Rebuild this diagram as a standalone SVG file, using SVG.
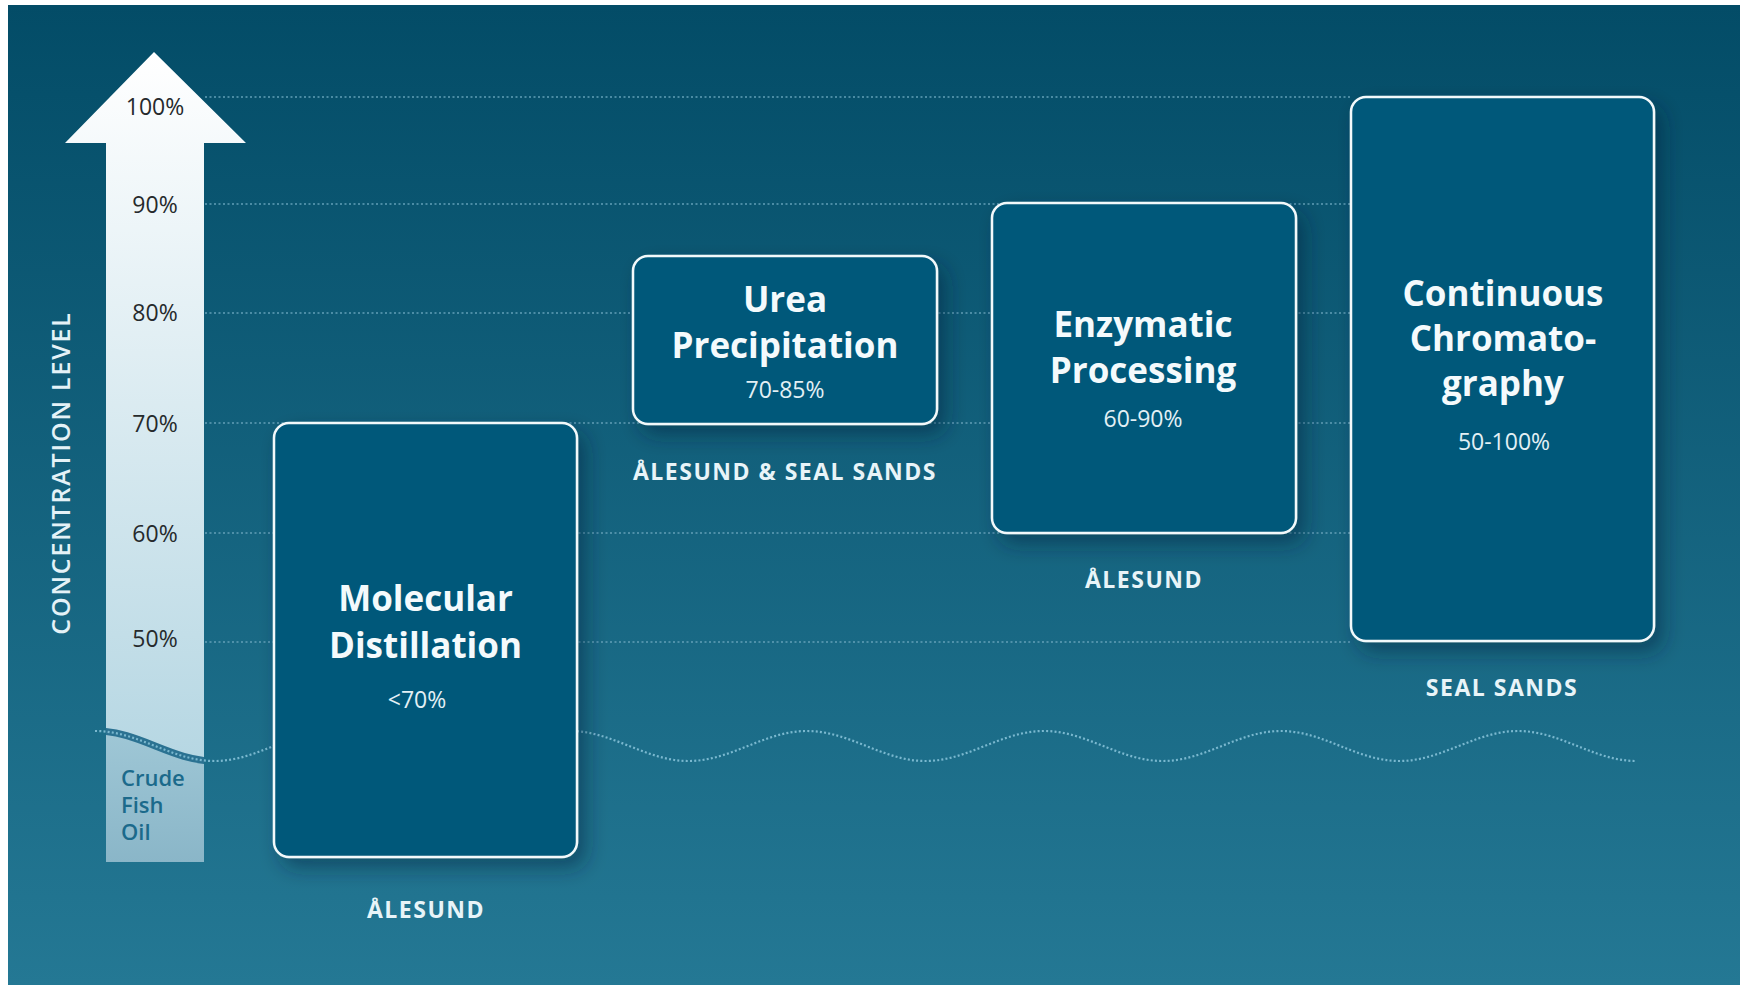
<svg xmlns="http://www.w3.org/2000/svg" width="1743" height="985" viewBox="0 0 1743 985">
<defs>
<linearGradient id="bg" x1="0" y1="0" x2="0" y2="1">
<stop offset="0" stop-color="#034c67"/>
<stop offset="1" stop-color="#247894"/>
</linearGradient>
<linearGradient id="arrowGrad" gradientUnits="userSpaceOnUse" x1="0" y1="52" x2="0" y2="760">
<stop offset="0" stop-color="#ffffff"/>
<stop offset="1" stop-color="#b6d7e3"/>
</linearGradient>
<linearGradient id="oilGrad" gradientUnits="userSpaceOnUse" x1="0" y1="730" x2="0" y2="862">
<stop offset="0" stop-color="#9fc7d6"/>
<stop offset="1" stop-color="#8ab6c8"/>
</linearGradient>
<filter id="shadow" x="-20%" y="-20%" width="150%" height="150%">
<feDropShadow dx="8" dy="10" stdDeviation="10" flood-color="#00263d" flood-opacity="0.45"/>
</filter>
<clipPath id="shaftClip"><rect x="106" y="600" width="98" height="262"/></clipPath>
<style>
.grid{stroke:#629fb7;stroke-width:1.7;stroke-dasharray:2 2.5;fill:none}
.wave{stroke:#7ab8cf;stroke-width:2.2;stroke-dasharray:2 2.2;fill:none}
.box{fill:#03587a;stroke:#f2f9fb;stroke-width:2.5}
.title{font-family:"Open Sans","Liberation Sans",sans-serif;font-weight:700;font-size:35px;fill:#f4fafc;text-anchor:middle}
.sub{font-family:"Open Sans","Liberation Sans",sans-serif;font-weight:400;font-size:23px;fill:#e3f0f5;text-anchor:middle}
.loc{font-family:"Open Sans","Liberation Sans",sans-serif;font-weight:700;font-size:23px;fill:#e8f4f8;text-anchor:middle;letter-spacing:1.5px}
.pct{font-family:"Open Sans","Liberation Sans",sans-serif;font-weight:400;font-size:23px;fill:#262a2c;text-anchor:middle}
.oil{font-family:"Open Sans","Liberation Sans",sans-serif;font-weight:600;font-size:22px;fill:#1b6a8b}
.axis{font-family:"Open Sans","Liberation Sans",sans-serif;font-weight:600;font-size:25px;fill:#e4f2f7;text-anchor:middle;letter-spacing:1.8px}
</style>
</defs>
<rect x="0" y="0" width="1743" height="985" fill="#ffffff"/>
<rect x="8" y="5" width="1732" height="980" fill="url(#bg)"/>

<g id="gridlines">
<line class="grid" x1="205" y1="97" x2="1352" y2="97"/>
<line class="grid" x1="205" y1="204" x2="1352" y2="204"/>
<line class="grid" x1="205" y1="313" x2="1352" y2="313"/>
<line class="grid" x1="205" y1="423" x2="1352" y2="423"/>
<line class="grid" x1="205" y1="533" x2="1352" y2="533"/>
<line class="grid" x1="205" y1="642" x2="1352" y2="642"/>
</g>

<g id="axis-arrow">
<polygon points="154,52 246,143 204,143 204,862 106,862 106,143 65,143" fill="url(#arrowGrad)"/>
<g clip-path="url(#shaftClip)">
<path d="M96,731 C139.2,731 171.3,761 214.5,761 L214.5,870 L96,870 Z" fill="url(#oilGrad)"/>
<path d="M96,731 C139.2,731 171.3,761 214.5,761" fill="none" stroke="#2b7292" stroke-width="7"/>
</g>
<text class="pct" x="155" y="115">100%</text>
<text class="pct" x="155" y="213">90%</text>
<text class="pct" x="155" y="321">80%</text>
<text class="pct" x="155" y="432">70%</text>
<text class="pct" x="155" y="542">60%</text>
<text class="pct" x="155" y="647">50%</text>
<text class="oil" x="121" y="786">Crude</text>
<text class="oil" x="121" y="813">Fish</text>
<text class="oil" x="121" y="840">Oil</text>
</g>

<g id="axis-label">
<text class="axis" transform="translate(70,473) rotate(-90)">CONCENTRATION LEVEL</text>
</g>

<g id="connectors">
<path class="wave" d="M95,731 C139.2,731 171.3,761 214.5,761 S289.8,731 333,731 S408.3,761 451.5,761 S526.8,731 570,731 S645.3,761 688.5,761 S763.8,731 807,731 S882.3,761 925.5,761 S1000.8,731 1044,731 S1119.3,761 1162.5,761 S1237.8,731 1281,731 S1356.3,761 1399.5,761 S1474.8,731 1518,731 S1593.3,761 1636.5,761"/>
</g>

<g id="node-molecular-distillation">
<rect class="box" x="274" y="423" width="303" height="434" rx="15" filter="url(#shadow)"/>
<text class="title" x="425.5" y="611">Molecular</text>
<text class="title" x="425.5" y="658">Distillation</text>
<text class="sub" x="417" y="708">&lt;70%</text>
<text class="loc" x="426" y="918">ÅLESUND</text>
</g>

<g id="node-urea-precipitation">
<rect class="box" x="633" y="256" width="304" height="168" rx="15" filter="url(#shadow)"/>
<text class="title" x="785" y="312">Urea</text>
<text class="title" x="785" y="358">Precipitation</text>
<text class="sub" x="785" y="398">70-85%</text>
<text class="loc" x="785" y="480">ÅLESUND &amp; SEAL SANDS</text>
</g>

<g id="node-enzymatic-processing">
<rect class="box" x="992" y="203" width="304" height="330" rx="15" filter="url(#shadow)"/>
<text class="title" x="1143" y="337">Enzymatic</text>
<text class="title" x="1143" y="383">Processing</text>
<text class="sub" x="1143" y="427">60-90%</text>
<text class="loc" x="1144" y="588">ÅLESUND</text>
</g>

<g id="node-continuous-chromatography">
<rect class="box" x="1351" y="97" width="303" height="544" rx="15" filter="url(#shadow)"/>
<text class="title" x="1503" y="306">Continuous</text>
<text class="title" x="1503" y="351">Chromato-</text>
<text class="title" x="1503" y="396">graphy</text>
<text class="sub" x="1504" y="450">50-100%</text>
<text class="loc" x="1502" y="696">SEAL SANDS</text>
</g>
</svg>
